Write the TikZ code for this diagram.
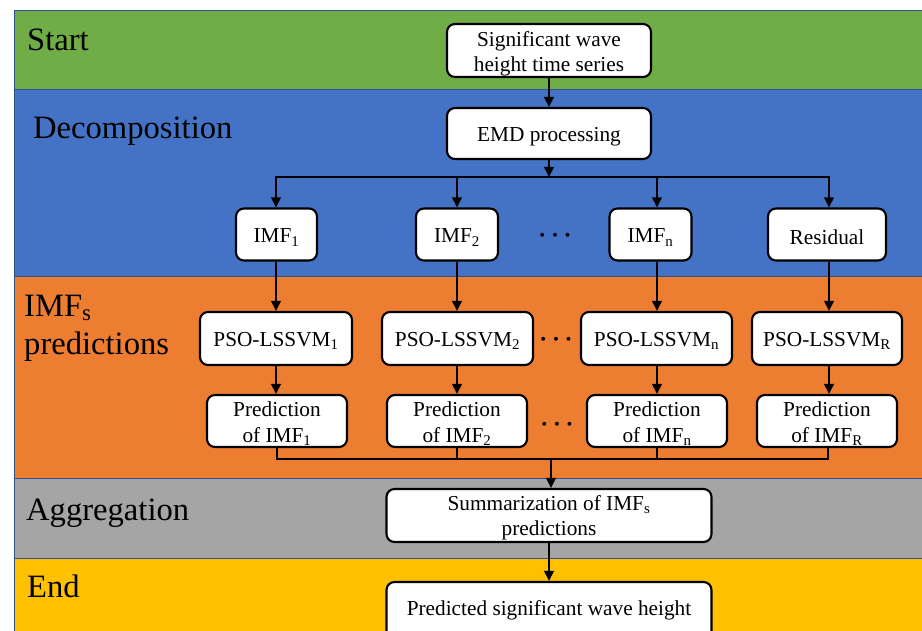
\documentclass[tikz,border=0pt]{standalone}
\usepackage{fontspec}
\setmainfont{Liberation Serif}
\usetikzlibrary{arrows.meta}
\definecolor{bandgreen}{HTML}{70AD47}
\definecolor{bandblue}{HTML}{4472C4}
\definecolor{bandorange}{HTML}{ED7D31}
\definecolor{bandgray}{HTML}{A5A5A5}
\definecolor{bandyellow}{HTML}{FFC000}
\definecolor{bandline}{HTML}{2F528F}
\tikzset{
  band/.style={draw=bandline, line width=1pt},
  lbl/.style={anchor=base west, inner sep=0pt, font=\fontsize{32.6}{38}\selectfont},
  box/.style={draw=black, line width=2.1pt, rounded corners=8pt, fill=white, inner sep=0pt},
  txt/.style={align=center, inner sep=0pt, font=\fontsize{21.3}{25.5}\selectfont},
  ln/.style={line width=2.3pt},
  arr/.style={line width=2.3pt, -{Triangle[length=10pt,width=9.5pt]}},
  dotsym/.style={inner sep=0pt, font=\fontsize{28}{30}\selectfont\boldmath},
}
\begin{document}
\begin{tikzpicture}[x=1pt,y=-1pt]
\useasboundingbox (0,0) rectangle (922,631);
\fill[white] (0,0) rectangle (922,631);
% bands
\path[band, fill=bandgreen]  (14,11)  rectangle (926,90);
\path[band, fill=bandblue]   (14,90)  rectangle (926,277);
\path[band, fill=bandorange] (14,277) rectangle (926,478);
\path[band, fill=bandgray]   (14,478) rectangle (926,558);
\path[band, fill=bandyellow] (14,558) rectangle (926,645);
% labels
\node[lbl] (lstart) at (27,51) {Start};
\node[lbl] (ldec) at (33,139) {Decomposition};
\node[lbl] (limf) at (24,317) {IMF\textsubscript{s}};
\node[lbl] (lpred) at (24,355) {predictions};
\node[lbl] (lagg) at (26,520) {Aggregation};
\node[lbl] (lend) at (27,597) {End};
% boxes
\node[box, minimum width=204, minimum height=53] (start) at (549,50.5) {};
\node[box, minimum width=204, minimum height=51] (emd) at (549,133.5) {};
\node[box, minimum width=81, minimum height=52] (imf1) at (276.5,234.5) {};
\node[box, minimum width=82, minimum height=52] (imf2) at (457,234.5) {};
\node[box, minimum width=82, minimum height=52] (imfn) at (650.5,234.5) {};
\node[box, minimum width=118, minimum height=52] (res) at (827,234.5) {};
\node[box, minimum width=152, minimum height=53] (pso1) at (276,338.5) {};
\node[box, minimum width=151, minimum height=53] (pso2) at (457.5,338.5) {};
\node[box, minimum width=151, minimum height=53] (pson) at (656.5,338.5) {};
\node[box, minimum width=150, minimum height=53] (psor) at (827,338.5) {};
\node[box, minimum width=140, minimum height=52] (pred1) at (277,421) {};
\node[box, minimum width=140, minimum height=52] (pred2) at (457,421) {};
\node[box, minimum width=140, minimum height=52] (predn) at (657,421) {};
\node[box, minimum width=140, minimum height=52] (predr) at (827,421) {};
\node[box, minimum width=325, minimum height=53] (summ) at (549,515.5) {};
\node[box, minimum width=325, minimum height=62] (final) at (549,613) {};
% box texts
\node[txt] (tstart) at ([yshift=-3.5pt]start.center) {Significant wave\\height time series};
\node[txt] (temd) at ([yshift=-3.5pt]emd.center) {EMD processing};
\node[txt] (timf1) at ([yshift=-3pt]imf1.center) {IMF\textsubscript{1}};
\node[txt] (timf2) at ([yshift=-3pt]imf2.center) {IMF\textsubscript{2}};
\node[txt] (timfn) at ([yshift=-3pt]imfn.center) {IMF\textsubscript{n}};
\node[txt] (tres) at ([yshift=-3pt]res.center) {Residual};
\node[txt] (tpso1) at ([yshift=-2.5pt]pso1.center) {PSO-LSSVM\textsubscript{1}};
\node[txt] (tpso2) at ([yshift=-2.5pt]pso2.center) {PSO-LSSVM\textsubscript{2}};
\node[txt] (tpson) at ([yshift=-2.5pt]pson.center) {PSO-LSSVM\textsubscript{n}};
\node[txt] (tpsor) at ([yshift=-2.5pt]psor.center) {PSO-LSSVM\textsubscript{R}};
\node[txt] (tpred1) at ([yshift=-2.5pt]pred1.center) {Prediction\\of IMF\textsubscript{1}};
\node[txt] (tpred2) at ([yshift=-2.5pt]pred2.center) {Prediction\\of IMF\textsubscript{2}};
\node[txt] (tpredn) at ([yshift=-2.5pt]predn.center) {Prediction\\of IMF\textsubscript{n}};
\node[txt] (tpredr) at ([yshift=-2.5pt]predr.center) {Prediction\\of IMF\textsubscript{R}};
\node[txt] (tsumm) at ([yshift=-2.5pt]summ.center) {Summarization of IMF\textsubscript{s}\\predictions};
\node[txt] (tfinal) at ([yshift=3pt]final.center) {Predicted significant wave height};
% dots
\node[dotsym] (d1) at (555,236) {$\cdots$};
\node[dotsym] (d2) at (556,340) {$\cdots$};
\node[dotsym] (d3) at (557,425) {$\cdots$};
% connectors
\draw[arr] (start.south) -- (emd.north);
\coordinate (b1) at (276,177);
\coordinate (b2) at (457,177);
\coordinate (b3) at (657,177);
\coordinate (b4) at (829,177);
\coordinate (bj) at (549,177);
\draw[ln, line cap=rect] (b1) -- (b4);
\draw[arr] (emd.south) -- (bj);
\draw[arr] (b1) -- (b1 |- imf1.north);
\draw[arr] (b2) -- (b2 |- imf2.north);
\draw[arr] (b3) -- (b3 |- imfn.north);
\draw[arr] (b4) -- (b4 |- res.north);
\draw[arr] (b1 |- imf1.south) -- (b1 |- pso1.north);
\draw[arr] (b2 |- imf2.south) -- (b2 |- pso2.north);
\draw[arr] (b3 |- imfn.south) -- (b3 |- pson.north);
\draw[arr] (b4 |- res.south) -- (b4 |- psor.north);
\draw[arr] (b1 |- pso1.south) -- (b1 |- pred1.north);
\draw[arr] (b2 |- pso2.south) -- (b2 |- pred2.north);
\draw[arr] (b3 |- pson.south) -- (b3 |- predn.north);
\draw[arr] (b4 |- psor.south) -- (b4 |- predr.north);
\coordinate (m1) at (277,459);
\coordinate (m2) at (457,459);
\coordinate (m3) at (657,459);
\coordinate (m4) at (828,459);
\coordinate (mj) at (551,459);
\draw[ln] (m1 |- pred1.south) -- (m1);
\draw[ln] (m2 |- pred2.south) -- (m2);
\draw[ln] (m3 |- predn.south) -- (m3);
\draw[ln] (m4 |- predr.south) -- (m4);
\draw[ln, line cap=rect] (m1) -- (m4);
\draw[arr] (mj) -- (mj |- summ.north);
\draw[arr] (summ.south) -- (final.north);
\end{tikzpicture}
\end{document}
